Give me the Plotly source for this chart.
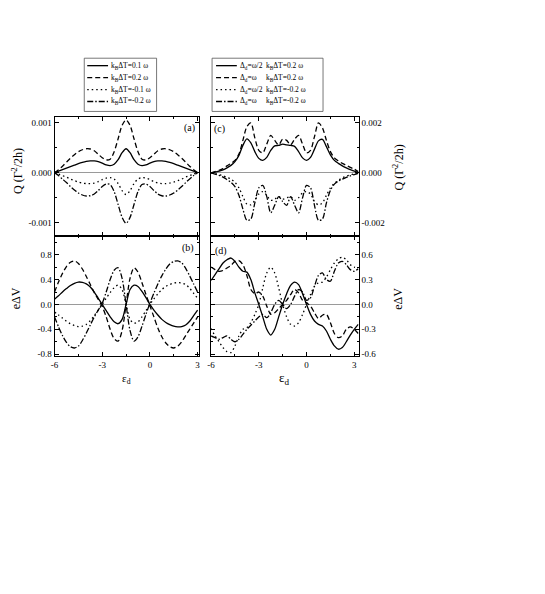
import plotly.graph_objects as go

W, H = 545, 594

# ---------------- data ----------------
eps_left = [-6.0, -5.75, -5.5, -5.25, -5.0, -4.75, -4.5, -4.25, -4.0, -3.75, -3.5, -3.25,
            -3.0, -2.75, -2.5, -2.25, -2.0, -1.75, -1.5, -1.25, -1.0, -0.75, -0.5, -0.25,
            0.0, 0.25, 0.5, 0.75, 1.0, 1.25, 1.5, 1.75, 2.0, 2.25, 2.5, 2.75, 3.0]
eps_right = [-6.0, -5.75, -5.5, -5.25, -5.0, -4.75, -4.5, -4.25, -4.0, -3.75, -3.5, -3.25,
             -3.0, -2.75, -2.5, -2.25, -2.0, -1.75, -1.5, -1.25, -1.0, -0.75, -0.5, -0.25,
             0.0, 0.25, 0.5, 0.75, 1.0, 1.25, 1.5, 1.75, 2.0, 2.25, 2.5, 2.75, 3.0, 3.25]

# panel (a): Q in units of 1e-3 (Gamma^2/2h)
qa_p01 = [0.0, 0.03, 0.06, 0.09, 0.12, 0.15, 0.18, 0.205, 0.225, 0.235, 0.235, 0.22,
          0.19, 0.155, 0.14, 0.17, 0.26, 0.40, 0.48, 0.40, 0.26, 0.17, 0.14, 0.155,
          0.19, 0.22, 0.235, 0.235, 0.225, 0.205, 0.18, 0.15, 0.12, 0.09, 0.06, 0.03, 0.0]
qa_p02 = [0.0, 0.06, 0.13, 0.21, 0.29, 0.36, 0.42, 0.46, 0.48, 0.475, 0.44, 0.37,
          0.30, 0.255, 0.27, 0.42, 0.68, 0.95, 1.06, 0.95, 0.68, 0.42, 0.27, 0.255,
          0.30, 0.37, 0.44, 0.475, 0.48, 0.46, 0.42, 0.36, 0.29, 0.21, 0.13, 0.06, 0.0]
qa_m01 = [0.0, -0.03, -0.06, -0.09, -0.13, -0.16, -0.19, -0.21, -0.22, -0.22, -0.21, -0.18,
          -0.14, -0.11, -0.10, -0.13, -0.22, -0.36, -0.44, -0.36, -0.22, -0.13, -0.10, -0.11,
          -0.14, -0.18, -0.21, -0.22, -0.22, -0.21, -0.19, -0.16, -0.13, -0.09, -0.06, -0.03, 0.0]
qa_m02 = [0.0, -0.06, -0.13, -0.20, -0.28, -0.35, -0.41, -0.45, -0.47, -0.465, -0.43, -0.36,
          -0.28, -0.23, -0.24, -0.38, -0.64, -0.90, -1.02, -0.90, -0.64, -0.38, -0.24, -0.23,
          -0.28, -0.36, -0.43, -0.465, -0.47, -0.45, -0.41, -0.35, -0.28, -0.20, -0.13, -0.06, 0.0]

# panel (b): e dV
vb_p01 = [0.085, 0.14, 0.20, 0.255, 0.305, 0.34, 0.36, 0.355, 0.33, 0.28, 0.20, 0.10,
          0.0, -0.10, -0.20, -0.28, -0.31, -0.24, 0.0, 0.24, 0.31, 0.29, 0.21, 0.11,
          0.0, -0.09, -0.17, -0.24, -0.29, -0.325, -0.35, -0.36, -0.355, -0.33, -0.27, -0.18, -0.09]
vb_p02 = [0.20, 0.36, 0.50, 0.61, 0.68, 0.70, 0.66, 0.57, 0.45, 0.32, 0.19, 0.08,
          -0.03, -0.20, -0.40, -0.55, -0.59, -0.42, 0.0, 0.42, 0.59, 0.52, 0.35, 0.16,
          -0.02, -0.20, -0.38, -0.52, -0.62, -0.68, -0.70, -0.67, -0.60, -0.50, -0.40, -0.30, -0.20]
vb_m01 = [-0.12, -0.17, -0.22, -0.27, -0.31, -0.34, -0.355, -0.35, -0.32, -0.26, -0.18, -0.09,
          0.0, 0.10, 0.19, 0.27, 0.31, 0.24, 0.0, -0.24, -0.30, -0.28, -0.20, -0.10,
          0.0, 0.09, 0.17, 0.24, 0.29, 0.32, 0.345, 0.35, 0.345, 0.32, 0.26, 0.18, 0.10]
vb_m02 = [-0.20, -0.36, -0.50, -0.61, -0.68, -0.70, -0.67, -0.58, -0.46, -0.33, -0.20, -0.09,
          0.02, 0.20, 0.40, 0.55, 0.59, 0.42, 0.0, -0.42, -0.59, -0.52, -0.35, -0.16,
          0.02, 0.18, 0.33, 0.46, 0.57, 0.65, 0.69, 0.70, 0.67, 0.58, 0.46, 0.33, 0.20]

# panel (c): Q in units of 1e-3
qc_h_p02 = [0.0, 0.03, 0.07, 0.12, 0.20, 0.30, 0.45, 0.70, 1.10, 1.36, 1.20, 0.85,
            0.58, 0.50, 0.62, 0.90, 1.08, 1.10, 1.15, 1.12, 1.10, 1.06, 0.85, 0.60,
            0.50, 0.62, 0.95, 1.28, 1.34, 1.05, 0.72, 0.50, 0.38, 0.28, 0.20, 0.13, 0.07, 0.02]
qc_f_p02 = [0.0, 0.05, 0.10, 0.17, 0.28, 0.38, 0.50, 0.75, 1.30, 1.85, 2.00, 1.40,
            0.90, 0.80, 1.15, 1.50, 1.30, 1.12, 1.35, 1.30, 1.12, 1.35, 1.50, 1.15,
            0.80, 0.90, 1.45, 2.00, 1.80, 1.30, 0.85, 0.60, 0.48, 0.38, 0.30, 0.22, 0.15, 0.05]
qc_h_m02 = [0.0, -0.03, -0.07, -0.12, -0.18, -0.25, -0.38, -0.60, -0.95, -1.25, -1.28, -1.10,
            -0.85, -0.75, -0.90, -1.10, -1.05, -0.95, -1.05, -1.00, -0.95, -1.10, -1.00, -0.80,
            -0.75, -0.85, -1.15, -1.28, -1.20, -0.90, -0.60, -0.42, -0.30, -0.20, -0.13, -0.08, -0.04, -0.01]
qc_f_m02 = [0.0, -0.05, -0.10, -0.17, -0.27, -0.38, -0.55, -0.90, -1.45, -1.90, -1.85, -1.20,
            -0.60, -0.50, -0.95, -1.60, -1.30, -0.95, -1.15, -1.30, -0.95, -1.30, -1.60, -1.00,
            -0.50, -0.60, -1.30, -1.90, -1.85, -1.20, -0.70, -0.45, -0.33, -0.25, -0.18, -0.12, -0.07, -0.02]

# panel (d): e dV
vd_h_p02 = [0.29, 0.36, 0.43, 0.50, 0.54, 0.56, 0.52, 0.45, 0.40, 0.39, 0.30, 0.14,
            0.0, -0.15, -0.30, -0.37, -0.30, -0.15, 0.0, 0.13, 0.23, 0.27, 0.24, 0.13,
            0.0, -0.12, -0.20, -0.24, -0.26, -0.32, -0.42, -0.50, -0.54, -0.52, -0.45, -0.37, -0.30, -0.24]
vd_f_p02 = [0.45, 0.42, 0.40, 0.41, 0.44, 0.47, 0.52, 0.53, 0.48, 0.35, 0.18, 0.13,
            0.15, 0.10, -0.02, -0.12, -0.10, -0.05, 0.0, 0.05, 0.12, 0.18, 0.14, 0.05,
            0.02, -0.02, -0.10, -0.17, -0.13, -0.12, -0.22, -0.35, -0.40, -0.38, -0.30, -0.27, -0.30, -0.35]
vd_h_m02 = [-0.29, -0.38, -0.45, -0.52, -0.57, -0.58, -0.50, -0.38, -0.30, -0.28, -0.22, -0.12,
            0.0, 0.20, 0.38, 0.45, 0.38, 0.20, 0.0, -0.15, -0.24, -0.26, -0.22, -0.12,
            0.0, 0.12, 0.22, 0.26, 0.27, 0.33, 0.42, 0.50, 0.55, 0.57, 0.54, 0.48, 0.45, 0.44]
vd_f_m02 = [-0.38, -0.40, -0.42, -0.40, -0.38, -0.42, -0.45, -0.42, -0.36, -0.30, -0.25, -0.20,
            -0.15, -0.12, -0.16, -0.10, 0.0, 0.05, 0.0, -0.05, 0.0, 0.10, 0.18, 0.15,
            0.05, 0.08, 0.22, 0.35, 0.38, 0.30, 0.28, 0.40, 0.50, 0.52, 0.48, 0.42, 0.40, 0.43]

legend_left = ["k<sub>B</sub>ΔT=0.1 ω", "k<sub>B</sub>ΔT=0.2 ω",
               "k<sub>B</sub>ΔT=-0.1 ω", "k<sub>B</sub>ΔT=-0.2 ω"]
legend_right_a = ["Δ<sub>d</sub>=ω/2", "Δ<sub>d</sub>=ω", "Δ<sub>d</sub>=ω/2", "Δ<sub>d</sub>=ω"]
legend_right_b = ["k<sub>B</sub>ΔT=0.2 ω", "k<sub>B</sub>ΔT=0.2 ω",
                  "k<sub>B</sub>ΔT=-0.2 ω", "k<sub>B</sub>ΔT=-0.2 ω"]

xticks = [-6, -3, 0, 3]
xticktext = ["-6", "-3", "0", "3"]
ya_ticks = [-0.001, 0.0, 0.001]
ya_text = ["-0.001", "0.000", "0.001"]
yb_ticks = [-0.8, -0.4, 0.0, 0.4, 0.8]
yb_text = ["-0.8", "-0.4", "0.0", "0.4", "0.8"]
yc_ticks = [-0.002, 0.0, 0.002]
yc_text = ["-0.002", "0.000", "0.002"]
yd_ticks = [-0.6, -0.3, 0.0, 0.3, 0.6]
yd_text = ["-0.6", "-0.3", "0.0", "0.3", "0.6"]

# ---------------- styles ----------------
FONT = "Liberation Serif"
DASHES = ["solid", "5px,3px", "1.5px,3px", "6px,2px,1.5px,2px"]
LW = 1.3


def fx(p):
    return p / W


def fy(p):
    return 1 - p / H


fig = go.Figure()


def add(xs, ys, ax, k, scale=1.0):
    fig.add_trace(go.Scatter(
        x=xs, y=[v * scale for v in ys], mode="lines", xaxis="x" + ax, yaxis="y" + ax,
        line=dict(color="black", width=LW, dash=DASHES[k], shape="spline", smoothing=0.8),
        showlegend=False, hoverinfo="skip"))


for k, s in enumerate([qa_p01, qa_p02, qa_m01, qa_m02]):
    add(eps_left, s, "", k, 1e-3)
for k, s in enumerate([vb_p01, vb_p02, vb_m01, vb_m02]):
    add(eps_left, s, "2", k)
for k, s in enumerate([qc_h_p02, qc_f_p02, qc_h_m02, qc_f_m02]):
    add(eps_right, s, "3", k, 1e-3)
for k, s in enumerate([vd_h_p02, vd_f_p02, vd_h_m02, vd_f_m02]):
    add(eps_right, s, "4", k)

xl = [fx(51), fx(197)]
xr = [fx(209), fx(358)]
yt = [fy(237), fy(118)]
yb = [fy(358), fy(237)]

common = dict(showline=True, linecolor="black", linewidth=1, mirror="ticks",
              ticks="inside", ticklen=4, tickcolor="black", showgrid=False,
              tickfont=dict(family=FONT, size=9, color="black"))


def xax(domain, anchor, rng, labels):
    d = dict(common)
    d.update(domain=domain, anchor=anchor, range=rng, zeroline=False,
             tickvals=xticks, ticktext=xticktext, showticklabels=labels,
             minor=dict(ticks="inside", ticklen=2, dtick=1.5, tick0=-6, tickcolor="black"))
    return d


def yax(domain, anchor, rng, tv, tt, minor, side):
    d = dict(common)
    d.update(domain=domain, anchor=anchor, range=rng, side=side,
             zeroline=True, zerolinecolor="#9a9a9a", zerolinewidth=1,
             tickvals=tv, ticktext=tt,
             minor=dict(ticks="inside", ticklen=2, dtick=minor, tick0=0, tickcolor="black"))
    return d


fig.update_layout(
    width=W, height=H, margin=dict(l=0, r=0, t=0, b=0),
    paper_bgcolor="white", plot_bgcolor="white",
    font=dict(family=FONT, color="black"),
    xaxis=xax(xl, "y", [-6, 3.1], False),
    yaxis=yax(yt, "x", [-1.27e-3, 1.11e-3], ya_ticks, ya_text, 0.0005, "left"),
    xaxis2=xax(xl, "y2", [-6, 3.1], True),
    yaxis2=yax(yb, "x2", [-0.832, 1.104], yb_ticks, yb_text, 0.2, "left"),
    xaxis3=xax(xr, "y3", [-6, 3.28], False),
    yaxis3=yax(yt, "x3", [-2.52e-3, 2.22e-3], yc_ticks, yc_text, 0.001, "right"),
    xaxis4=xax(xr, "y4", [-6, 3.28], True),
    yaxis4=yax(yb, "x4", [-0.624, 0.828], yd_ticks, yd_text, 0.15, "right"),
)

ann = []
shapes = []


def text(x, y, s, size, angle=0, xanchor="center"):
    ann.append(dict(x=fx(x), y=fy(y), xref="paper", yref="paper", text=s, showarrow=False,
                    textangle=angle, xanchor=xanchor, yanchor="middle",
                    font=dict(family=FONT, size=size, color="black")))


# axis titles
text(13, 172, "Q (Γ<sup>2</sup>/2h)", 12, -90)
text(13, 300, "eΔV", 12, -90)
text(398, 168, "Q (Γ<sup>2</sup>/2h)", 12, -90)
text(398, 300, "eΔV", 12, -90)
text(124, 381, "ε<sub>d</sub>", 11)
text(283, 380, "ε<sub>d</sub>", 13)

# panel labels
text(187, 129, "(a)", 10)
text(186, 249, "(b)", 10)
text(217, 130, "(c)", 10)
text(219, 252, "(d)", 10)

# legends (drawn as boxes with line samples)
rows = [66, 78, 90, 102]
shapes.append(dict(type="rect", xref="paper", yref="paper", x0=fx(81), x1=fx(154),
                   y0=fy(112), y1=fy(58.5), line=dict(color="#555", width=0.8)))
shapes.append(dict(type="rect", xref="paper", yref="paper", x0=fx(210), x1=fx(322),
                   y0=fy(112), y1=fy(58.5), line=dict(color="#555", width=0.8)))
for i, r in enumerate(rows):
    shapes.append(dict(type="line", xref="paper", yref="paper", x0=fx(84), x1=fx(105),
                       y0=fy(r), y1=fy(r), line=dict(color="black", width=LW, dash=DASHES[i])))
    text(106, r, legend_left[i], 7.5, xanchor="left")
    shapes.append(dict(type="line", xref="paper", yref="paper", x0=fx(214), x1=fx(235),
                       y0=fy(r), y1=fy(r), line=dict(color="black", width=LW, dash=DASHES[i])))
    text(236, r, legend_right_a[i], 7.5, xanchor="left")
    text(262, r, legend_right_b[i], 7.5, xanchor="left")

fig.update_layout(annotations=ann, shapes=shapes)
fig.write_html("out.html", config={"displayModeBar": False},
               post_script="document.body.style.margin='0px';")
